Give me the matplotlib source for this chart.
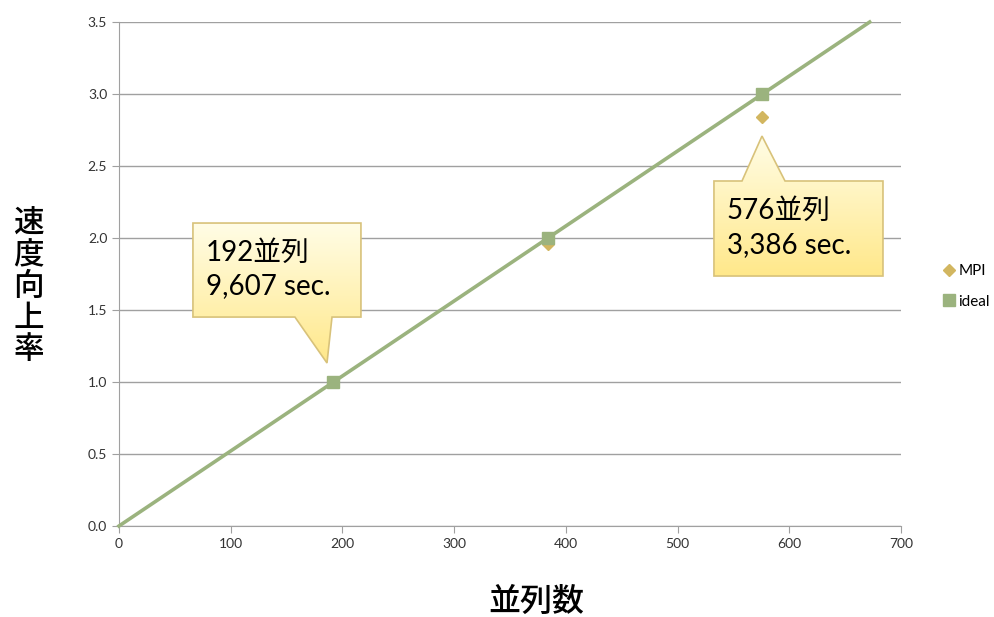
import numpy as np
import matplotlib.pyplot as plt
from matplotlib.patches import Polygon
from matplotlib.lines import Line2D
from matplotlib.colors import LinearSegmentedColormap

plt.rcParams['font.family'] = ['Lato', 'Noto Sans CJK JP', 'DejaVu Sans']

# data
procs = [192, 384, 576]
mpi_speedup = [1.0, 1.96, 2.84]
ideal_x = [0, 192, 384, 576, 672]
ideal_y = [0, 1.0, 2.0, 3.0, 3.5]

green = '#9bb37e'
gold = '#d2b660'

fig = plt.figure(figsize=(9.94, 6.17), dpi=100)
ax = fig.add_axes([0.1197, 0.1475, 0.7867, 0.8168])

ax.plot(ideal_x, ideal_y, color=green, lw=2.6, marker='s', ms=9,
        markevery=[1, 2, 3], zorder=3, clip_on=False)
ax.plot(procs, mpi_speedup, ls='none', marker='D', ms=6.5, color=gold, zorder=2)

ax.set_xlim(0, 700)
ax.set_ylim(0, 3.5)
ax.set_xticks(np.arange(0, 701, 100))
ax.set_yticks(np.arange(0, 3.51, 0.5))
ax.set_yticklabels([f'{v:.1f}' for v in np.arange(0, 3.51, 0.5)])
ax.grid(axis='y', color='#a0a0a0', lw=1)
ax.set_axisbelow(True)
for s in ['top', 'right']:
    ax.spines[s].set_visible(False)
for s in ['left', 'bottom']:
    ax.spines[s].set_color('#a0a0a0')
ax.tick_params(colors='#a0a0a0', labelcolor='#333333', labelsize=10, length=5)

fig.text(0.540, 0.024, '並列数', fontsize=23, fontweight='medium',
         family=['Noto Sans CJK JP'], ha='center', va='center')
fig.text(0.029, 0.535, '\n'.join('速度向上率'), fontsize=22, fontweight='medium',
         family=['Noto Sans CJK JP'], ha='center', va='center', linespacing=1.02)

# callouts
grad = np.linspace(0, 1, 256).reshape(-1, 1)
cmap = LinearSegmentedColormap.from_list('cb', ['#fffde6', '#ffe88a'])


def callout(verts, text, tx, ty):
    poly = Polygon(verts, closed=True, facecolor='none', edgecolor='#d8c27a',
                   lw=1.2, zorder=6, clip_on=False)
    ax.add_patch(poly)
    xs = [v[0] for v in verts]
    ys = [v[1] for v in verts]
    im = ax.imshow(grad, cmap=cmap, aspect='auto', zorder=5,
                   extent=[min(xs), max(xs), min(ys), max(ys)], origin='upper')
    im.set_clip_path(poly)
    ax.text(tx, ty, text, fontsize=20, ha='left', va='center', zorder=7,
            linespacing=1.35, clip_on=False)


callout([(66.2, 2.104), (216.6, 2.104), (216.6, 1.451), (190.7, 1.451),
         (186.2, 1.132), (157.5, 1.451), (66.2, 1.451)],
        '192並列\n9,607 sec.', 78, 1.78)
callout([(532.6, 2.396), (557.7, 2.396), (575.6, 2.708), (596.2, 2.396),
         (683.9, 2.396), (683.9, 1.736), (532.6, 1.736)],
        '576並列\n3,386 sec.', 544, 2.07)
ax.set_xlim(0, 700)
ax.set_ylim(0, 3.5)

handles = [Line2D([], [], ls='none', marker='D', color=gold, ms=6),
           Line2D([], [], ls='none', marker='s', color=green, ms=8)]
fig.legend(handles, ['MPI', 'ideal'], loc='center left', bbox_to_anchor=(0.941, 0.536),
           frameon=False, fontsize=11, handletextpad=0.1, handlelength=1,
           labelspacing=1.1, borderaxespad=0)

fig.savefig('out.png', dpi=100)
